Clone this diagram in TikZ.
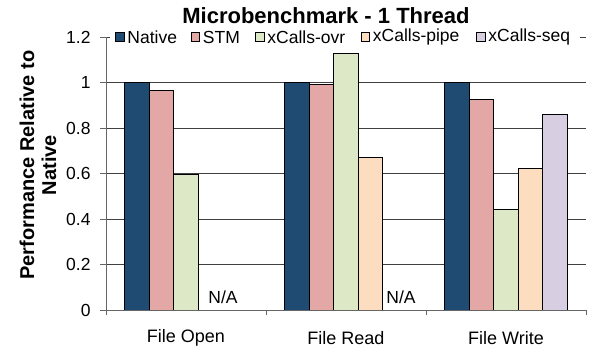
\documentclass[tikz,border=0pt]{standalone}
\usepackage{fontspec}
\setmainfont{Liberation Sans}

\definecolor{native}{HTML}{1F4A72}
\definecolor{stm}{HTML}{E3A8A5}
\definecolor{ovr}{HTML}{DDE8C6}
\definecolor{pipe}{HTML}{FCDDC0}
\definecolor{seq}{HTML}{D7CEE2}

\def\plotLeft{106}
\def\plotRight{586}
\def\plotBase{44}
\def\unitHeight{227.5}
\def\barWidth{24.5}
\def\groupWidth{160}

\begin{document}
\begin{tikzpicture}[x=1pt, y=1pt,
    bar/.style = {draw = black, line width = 0.9pt},
    gridline/.style = {draw = black!75, line width = 0.9pt},
    axisline/.style = {draw = black!60, line width = 0.9pt},
    txt/.style = {inner sep = 0pt, font = \fontsize{17.5}{20}\selectfont},
    ticklabel/.style = {txt, anchor = east},
    legendbox/.style = {draw = black, line width = 0.7pt, minimum size = 8.5pt, inner sep = 0pt}
    ]
    \useasboundingbox (0,0) rectangle (592,354);
    \coordinate (origin) at (\plotLeft, \plotBase);

    %% gridlines and value labels
    \foreach \i in {1,...,6} {
        \draw [gridline] (origin) ++(0, {\i*0.2*\unitHeight}) -- ++(\plotRight-\plotLeft, 0);
    }
    \foreach \i/\lab in {0/0, 1/0.2, 2/0.4, 3/0.6, 4/0.8, 5/1, 6/1.2} {
        \draw [axisline] (origin) ++(0, {\i*0.2*\unitHeight}) -- ++(-6, 0)
            node [ticklabel, xshift = -9pt] (tick\i) {\lab};
    }

    %% bars: group / series / value / colour
    \foreach \g/\s/\v/\c in {0/0/1/native, 0/1/0.965/stm, 0/2/0.596/ovr,
                             1/0/1/native, 1/1/0.992/stm, 1/2/1.127/ovr, 1/3/0.669/pipe,
                             2/0/1/native, 2/1/0.924/stm, 2/2/0.444/ovr, 2/3/0.623/pipe, 2/4/0.86/seq} {
        \draw [bar, fill = \c]
        (origin) ++({\g*\groupWidth + 18.75 + \s*\barWidth}, 0)
        rectangle ++(\barWidth, {\v*\unitHeight})
        ;
    }

    %% axes
    \draw [axisline] (origin) ++(-6, 0) -- (\plotRight, \plotBase);
    \draw [axisline] (origin) ++(0, -5) -- ++(0, {1.2*\unitHeight + 5});
    \foreach \g in {1,2,3} {
        \draw [axisline] (origin) ++(\g*\groupWidth, 0) -- ++(0, -5);
    }

    %% legend
    \fill [white] (110, 308) rectangle (580, 326);
    \foreach \x/\c/\lab/\name in {115/native/Native/lgNative, 190.5/stm/STM/lgStm,
                                  255/ovr/xCalls-ovr/lgOvr, 360.5/pipe/xCalls-pipe/lgPipe,
                                  476/seq/xCalls-seq/lgSeq} {
        \node [legendbox, fill = \c, anchor = west] (\name box) at (\x, 317) {};
        \node [txt, anchor = west, xshift = 3pt] (\name) at (\name box.east) {\lab};
    }

    %% categories and missing values
    \node [txt, font = \fontsize{18}{20}\selectfont] (catOpen) at (186, 16) {File Open};
    \node [txt, font = \fontsize{18}{20}\selectfont] (catRead) at (346, 16) {File Read};
    \node [txt, font = \fontsize{18}{20}\selectfont] (catWrite) at (506, 16) {File Write};
    \node [txt] (naOpen) at (223, 57) {N/A};
    \node [txt] (naRead) at (401, 57) {N/A};

    %% titles
    \node [inner sep = 0pt, anchor = base, font = \bfseries\fontsize{22}{24}\selectfont]
        (title) at (326, 330) {Microbenchmark - 1 Thread};
    \node [rotate = 90, align = center, inner sep = 0pt, font = \bfseries\fontsize{20}{22}\selectfont]
        (ylabel) at (38, 189) {Performance Relative to\\Native};
\end{tikzpicture}
\end{document}
